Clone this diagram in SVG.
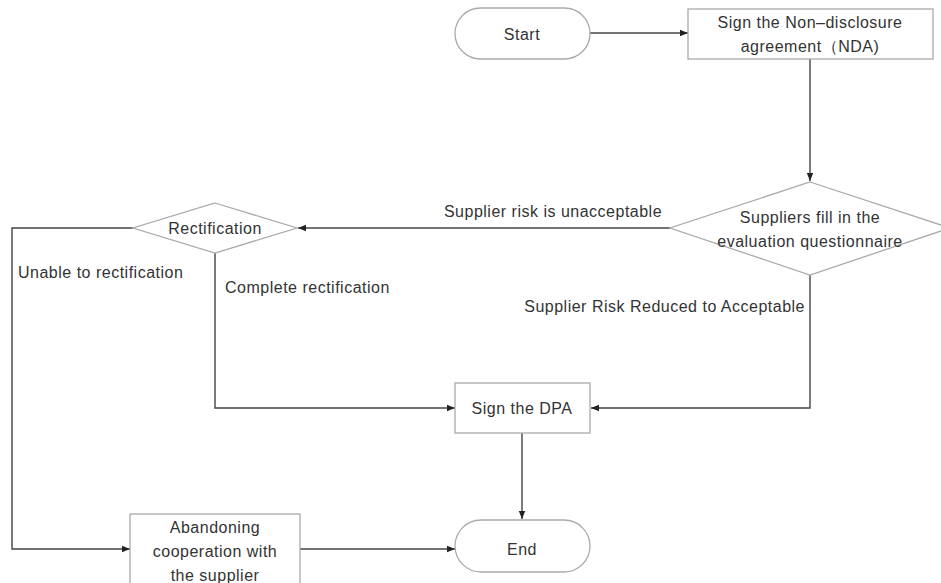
<svg xmlns="http://www.w3.org/2000/svg" width="941" height="583" viewBox="0 0 941 583">
<defs>
<marker id="arr" viewBox="0 0 10 10" refX="10" refY="5" markerWidth="8" markerHeight="8" markerUnits="userSpaceOnUse" orient="auto"><path d="M0,1 L10,5 L0,9 z" fill="#222"/></marker>
</defs>
<style>
.node{fill:#fff;stroke:#aaa;stroke-width:1.3}
.edge{fill:none;stroke:#444;stroke-width:1.4;marker-end:url(#arr)}
.line{fill:none;stroke:#444;stroke-width:1.4}
text{font-family:"Liberation Sans",Arial,sans-serif;fill:#333;font-size:16px;letter-spacing:0.5px}
.c{text-anchor:middle;dominant-baseline:central}
</style>
<rect width="941" height="583" fill="#fff"/>
<g id="connectors">
<path class="edge" d="M590,33 L688,33"/>
<path class="edge" d="M810,59 L810,181"/>
<path class="edge" d="M670,228 L298,228"/>
<path class="edge" d="M133,228 L12,228 L12,549 L130,549"/>
<path class="edge" d="M215,253 L215,408 L455,408"/>
<path class="edge" d="M810,275 L810,408 L591,408"/>
<path class="edge" d="M522,433 L522,519"/>
<path class="edge" d="M300,549 L455,549"/>
<text x="553" y="211" class="c">Supplier risk is unacceptable</text>
<text x="18" y="272" dominant-baseline="central">Unable to rectification</text>
<text x="225" y="287" dominant-baseline="central">Complete rectification</text>
<text x="805" y="306" text-anchor="end" dominant-baseline="central">Supplier Risk Reduced to Acceptable</text>
</g>
<g id="start"><rect class="node" x="455" y="8" width="135" height="51" rx="25.5"/><text x="522" y="34" class="c">Start</text></g>
<g id="nda"><rect class="node" x="688" y="9" width="245" height="50"/><text x="810" y="22" class="c">Sign the Non–disclosure</text><text x="810" y="46" class="c">agreement（NDA)</text></g>
<g id="questionnaire"><path class="node" d="M810,182 L950,228 L810,275 L670,228 z"/><text x="810" y="217" class="c">Suppliers fill in the</text><text x="810" y="241" class="c">evaluation questionnaire</text></g>
<g id="rectification"><path class="node" d="M215,203 L297,228 L215,253 L133,228 z"/><text x="215" y="228" class="c">Rectification</text></g>
<g id="dpa"><rect class="node" x="455" y="383" width="135" height="50"/><text x="522" y="408" class="c">Sign the DPA</text></g>
<g id="abandon"><rect class="node" x="130" y="514" width="170" height="75"/><text x="215" y="527" class="c">Abandoning</text><text x="215" y="551" class="c">cooperation with</text><text x="215" y="575" class="c">the supplier</text></g>
<g id="end"><rect class="node" x="455" y="520" width="135" height="52" rx="26"/><text x="522" y="549" class="c">End</text></g>
</svg>
